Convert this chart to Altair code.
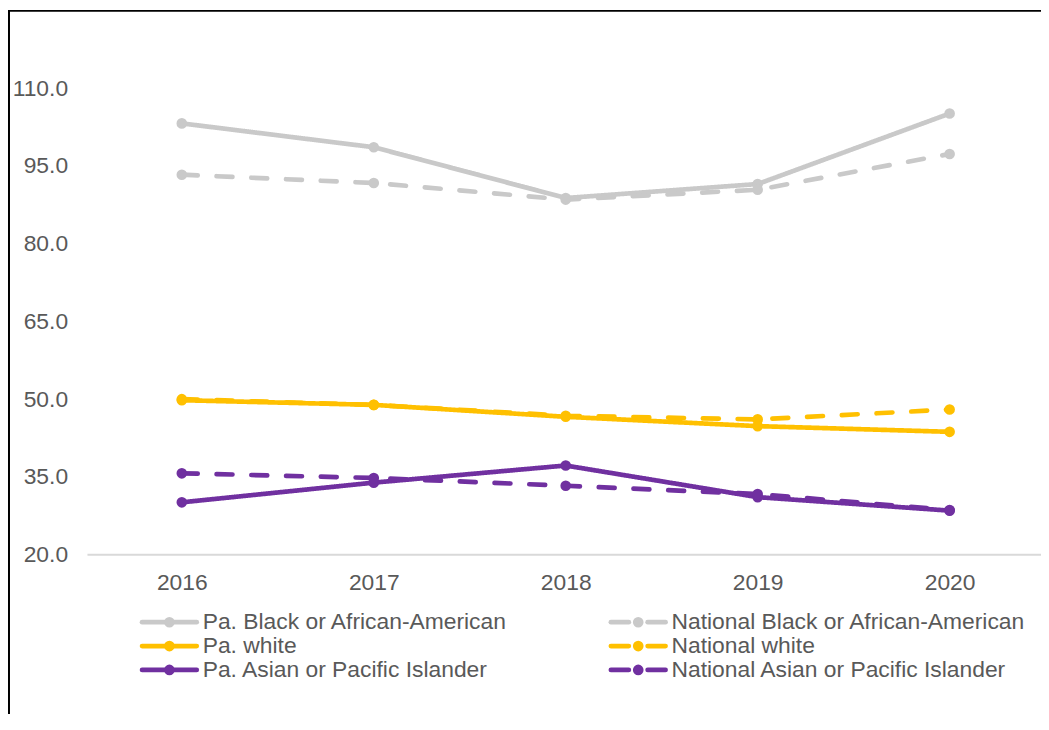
import altair as alt
import pandas as pd

years = ["2016", "2017", "2018", "2019", "2020"]
series_names = [
    "Pa. Black or African-American",
    "National Black or African-American",
    "Pa. white",
    "National white",
    "Pa. Asian or Pacific Islander",
    "National Asian or Pacific Islander",
]
pa_black = [103.2, 98.6, 88.8, 91.5, 105.1]
nat_black = [93.3, 91.7, 88.5, 90.4, 97.3]
pa_white = [49.8, 48.9, 46.6, 44.8, 43.7]
nat_white = [50.0, 48.9, 46.8, 46.1, 48.0]
pa_asian = [30.1, 33.9, 37.2, 31.1, 28.5]
nat_asian = [35.7, 34.8, 33.3, 31.7, 28.6]
y_ticks = [20, 35, 50, 65, 80, 95, 110]

colors = ["#c9c9c9", "#c9c9c9", "#ffc000", "#ffc000", "#7030a0", "#7030a0"]
dashes = [[1, 0], [16, 19], [1, 0], [16, 19], [1, 0], [16, 19]]

all_values = [pa_black, nat_black, pa_white, nat_white, pa_asian, nat_asian]
rows = []
for name, vals in zip(series_names, all_values):
    for yr, v in zip(years, vals):
        rows.append({"year": yr, "value": v, "series": name})
df = pd.DataFrame(rows)

# legend entries: one row per series (index gives grid cell), two stroke parts each
legend_df = pd.DataFrame({"series": series_names, "idx": list(range(len(series_names)))})
legend_parts = pd.DataFrame(
    [{"series": s, "idx": i, "part": p} for i, s in enumerate(series_names) for p in (0, 1)]
)

FONT = "Liberation Sans"
TXT = "#595959"
W, H = 960, 548

stroke_scale = alt.Scale(domain=series_names, range=colors)
y_scale = alt.Scale(domain=[20, 125], nice=False, zero=False)


def y_axis():
    return alt.Axis(
        title=None, values=y_ticks, format=".1f", ticks=False, domain=False,
        grid=False, labelFontSize=23, labelColor=TXT, labelFont=FONT,
        labelPadding=20,
    )


x_enc = alt.X(
    "year:O",
    scale=alt.Scale(type="point", domain=years, range=[95, 868], padding=0),
    axis=alt.Axis(
        title=None, labelAngle=0, ticks=False, domain=False, grid=False,
        labelFontSize=23, labelColor=TXT, labelFont=FONT, labelPadding=17,
    ),
)
y_enc = alt.Y("value:Q", scale=y_scale, axis=y_axis())

base = alt.Chart(df)

baseline = base.mark_rule(color="#d9d9d9", strokeWidth=2).encode(
    y=alt.Y("value:Q", aggregate="min", scale=y_scale, axis=y_axis()),
    x=alt.value(0), x2=alt.value(W),
).transform_calculate(value="20")

lines = base.mark_line(strokeWidth=4.7, strokeJoin="round", strokeCap="round").encode(
    x=x_enc, y=y_enc,
    stroke=alt.Stroke("series:N", scale=stroke_scale, legend=None),
    strokeDash=alt.StrokeDash("series:N", scale=alt.Scale(domain=series_names, range=dashes), legend=None),
)

points = base.mark_point(filled=True, size=115, opacity=1, shape="circle").encode(
    x=x_enc, y=y_enc,
    fill=alt.Fill("series:N", scale=stroke_scale, legend=None),
)

# ---- legend (2 columns x 3 rows), laid out in pixels below the plot ----
LEG_X0, LEG_COL_STEP, LEG_Y0, LEG_ROW_STEP = 55, 472, 616, 24
grid_calc = dict(
    col="datum.idx % 2",
    row="floor(datum.idx / 2)",
)
pos_calc = dict(
    bx=f"{LEG_X0} + datum.col * {LEG_COL_STEP}",
    py=f"{LEG_Y0} + datum.row * {LEG_ROW_STEP}",
)

leg_lines = alt.Chart(legend_parts).transform_calculate(**grid_calc).transform_calculate(
    **pos_calc
).transform_calculate(
    x1="datum.bx + (datum.part == 0 ? 0 : (datum.col == 1 ? 37 : 27.5))",
    x2="datum.bx + (datum.part == 0 ? (datum.col == 1 ? 18 : 27.5) : 55)",
).mark_rule(strokeWidth=4.8, strokeCap="round").encode(
    x=alt.X("x1:Q", scale=None, axis=None),
    x2=alt.X2("x2:Q"),
    y=alt.Y("py:Q", scale=None, axis=None),
    stroke=alt.Stroke("series:N", scale=stroke_scale, legend=None),
)

leg_points = alt.Chart(legend_df).transform_calculate(**grid_calc).transform_calculate(
    **pos_calc
).transform_calculate(cx="datum.bx + 27.5").mark_point(
    filled=True, size=115, opacity=1, shape="circle"
).encode(
    x=alt.X("cx:Q", scale=None, axis=None),
    y=alt.Y("py:Q", scale=None, axis=None),
    fill=alt.Fill("series:N", scale=stroke_scale, legend=None),
)

leg_text = alt.Chart(legend_df).transform_calculate(**grid_calc).transform_calculate(
    **pos_calc
).transform_calculate(tx="datum.bx + 61").mark_text(
    align="left", baseline="middle", fontSize=23, font=FONT, color=TXT
).encode(
    x=alt.X("tx:Q", scale=None, axis=None),
    y=alt.Y("py:Q", scale=None, axis=None),
    text="series:N",
)

frame_df = pd.DataFrame({"k": [0]})
frame_top = alt.Chart(frame_df).mark_rule(color="black", strokeWidth=2).encode(
    x=alt.value(-80), x2=alt.value(W), y=alt.value(0.5)
)
frame_left = alt.Chart(frame_df).mark_rule(color="black", strokeWidth=2).encode(
    x=alt.value(-79), y=alt.value(0), y2=alt.value(760)
)

chart = alt.layer(
    baseline, lines, points, leg_lines, leg_points, leg_text, frame_top, frame_left
).properties(
    width=W, height=H,
    padding={"left": 80, "top": 0, "right": 0, "bottom": 158},
    autosize=alt.AutoSizeParams(type="none"),
    background="white",
).configure(font=FONT).configure_view(stroke=None)

chart.save("out.html", embed_options={"renderer": "svg", "actions": False})
